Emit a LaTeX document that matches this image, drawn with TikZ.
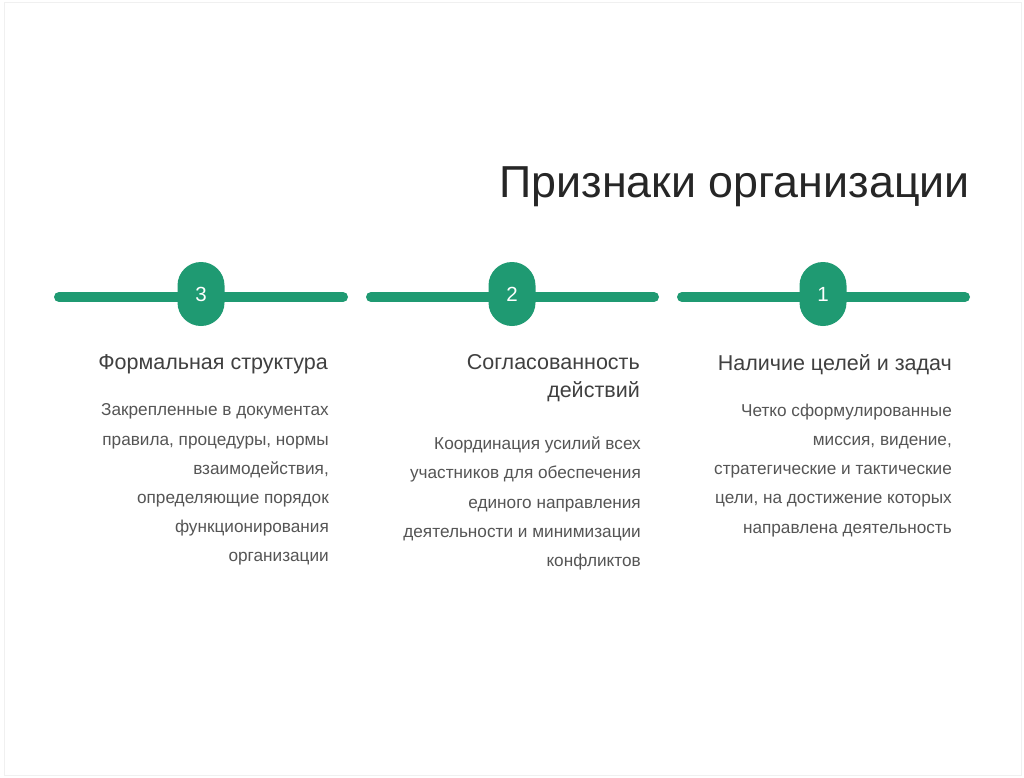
\documentclass[tikz,border=0pt]{standalone}
\usepackage{fontspec}
\setmainfont{Liberation Sans}
\definecolor{grn}{RGB}{31,154,114}
\definecolor{headc}{RGB}{64,64,64}
\definecolor{bodyc}{RGB}{85,85,85}
\begin{document}
\begin{tikzpicture}[x=1pt,y=-1pt,
  bar/.style={line width=10pt,grn,line cap=round},
  pill/.style={fill=grn,draw=none,minimum width=47pt,minimum height=64pt,rounded corners=23.5pt,inner sep=0pt,text=white,font=\fontsize{20.5}{20.5}\selectfont},
  head/.style={anchor=north east,align=right,text=headc,inner sep=0pt,font=\fontsize{21.5}{28}\selectfont},
  body/.style={anchor=north east,align=right,text=bodyc,inner sep=0pt,font=\fontsize{17.2}{29.2}\selectfont}]
\useasboundingbox (0,0) rectangle (1024,777);
\fill[white] (0,0) rectangle (1024,777);
\draw[black!6,line width=1pt] (4,2.5) rectangle (1021,775);
\node[anchor=base east,inner sep=0pt,text=black!85,font=\fontsize{44.8}{44.8}\selectfont] (title) at (970,197) {Признаки организации};
\draw[bar] (59,297) -- (343,297);
\draw[bar] (371,297) -- (654,297);
\draw[bar] (682,297) -- (965,297);
\node[pill] (p3) at (201,294) {3};
\node[pill] (p2) at (512,294) {2};
\node[pill] (p1) at (823,294) {1};
\node[head] (h3) at (328,354.6) {Формальная структура};
\node[body] (b3) at (329,403.7) {Закрепленные в документах\\правила, процедуры, нормы\\взаимодействия,\\определяющие порядок\\функционирования\\организации};
\node[head] (h2) at (640,354.6) {Согласованность\\действий};
\node[body] (b2) at (641,436.7) {Координация усилий всех\\участников для обеспечения\\единого направления\\деятельности и минимизации\\конфликтов};
\node[head] (h1) at (952,354.6) {Наличие целей и задач};
\node[body] (b1) at (952,403.7) {Четко сформулированные\\миссия, видение,\\стратегические и тактические\\цели, на достижение которых\\направлена деятельность};
\end{tikzpicture}
\end{document}
